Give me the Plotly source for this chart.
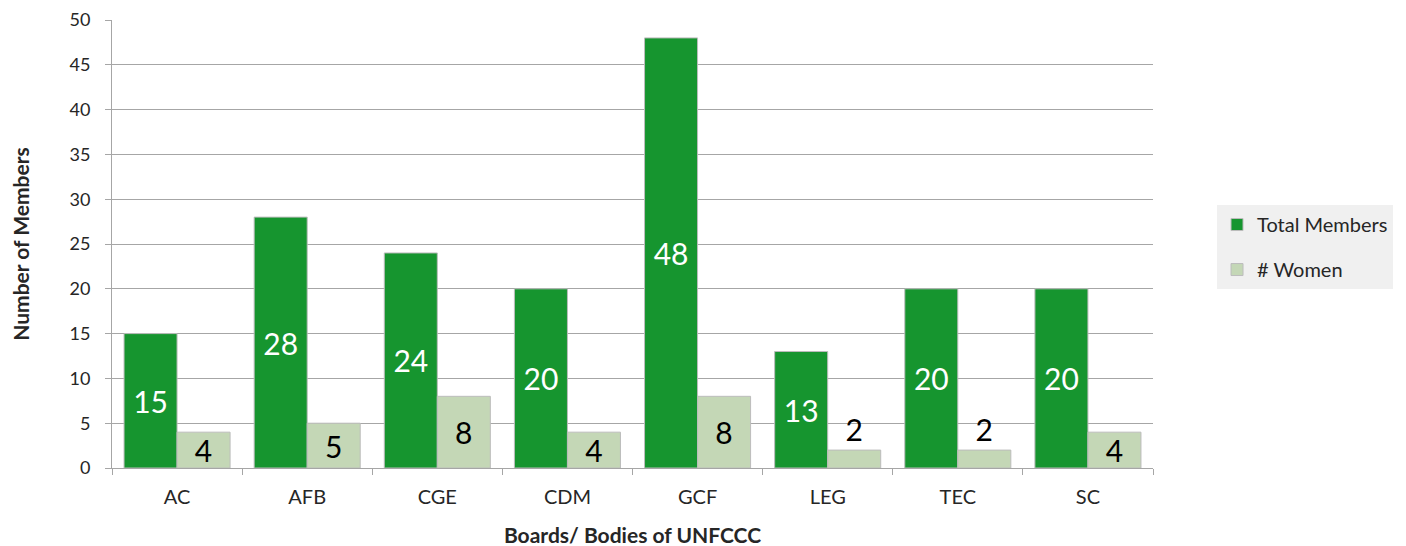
import plotly.graph_objects as go

categories = ["AC", "AFB", "CGE", "CDM", "GCF", "LEG", "TEC", "SC"]
total_members = [15, 28, 24, 20, 48, 13, 20, 20]
women = [4, 5, 8, 4, 8, 2, 2, 4]
y_ticks = [0, 5, 10, 15, 20, 25, 30, 35, 40, 45, 50]

FONT = "Lato"
GREEN = "#16952f"
LIGHT = "#c4d7b6"


def positions(vals):
    return ["inside" if v >= 4 else "outside" for v in vals]


fig = go.Figure()
fig.add_trace(go.Bar(
    name="Total Members", x=categories, y=total_members, legendgroup="t",
    marker=dict(color=GREEN, line=dict(color="#bcbcbc", width=1)),
    text=total_members, textposition=positions(total_members),
    insidetextanchor="middle", constraintext="none", textangle=0,
    insidetextfont=dict(family=FONT, size=30, color="white"),
    outsidetextfont=dict(family=FONT, size=30, color="black"),
))
fig.add_trace(go.Bar(
    name="# Women", x=categories, y=women, legendgroup="w",
    marker=dict(color=LIGHT, line=dict(color="#bcbcbc", width=1)),
    text=women, textposition=positions(women),
    insidetextanchor="middle", constraintext="none", textangle=0,
    insidetextfont=dict(family=FONT, size=30, color="black"),
    outsidetextfont=dict(family=FONT, size=30, color="black"),
))

fig.update_layout(
    width=1406, height=546,
    margin=dict(l=104, r=261, t=12, b=86, autoexpand=False),
    paper_bgcolor="white", plot_bgcolor="white",
    barmode="group", bargap=0.185, bargroupgap=0,
    font=dict(family=FONT, size=18, color="#262626"),
    showlegend=True,
    legend=dict(
        x=1.0615, y=0.587, xanchor="left", yanchor="top",
        bgcolor="#f0f0f0", font=dict(family=FONT, size=20, color="#262626"),
        itemwidth=30, tracegroupgap=16,
    ),
    xaxis=dict(
        title=dict(text="<b>Boards/ Bodies of UNFCCC</b>", font=dict(size=21), standoff=21),
        showline=True, linecolor="#a6a6a6", linewidth=1,
        ticks="outside", tickson="boundaries", ticklen=6, tickcolor="#a6a6a6",
        tickfont=dict(size=20), ticklabelstandoff=11, automargin=False,
    ),
    yaxis=dict(
        title=dict(text="<b>Number of Members</b>", font=dict(size=21), standoff=47),
        range=[0, 50], tickvals=y_ticks,
        showline=True, linecolor="#a6a6a6", linewidth=1,
        showgrid=True, gridcolor="#a6a6a6", gridwidth=1,
        ticks="outside", ticklen=6, tickcolor="#a6a6a6",
        tickfont=dict(size=18), ticklabelstandoff=11, ticklabeloverflow="allow",
        zeroline=False, automargin=False,
    ),
)

fig.write_html("out.html")
